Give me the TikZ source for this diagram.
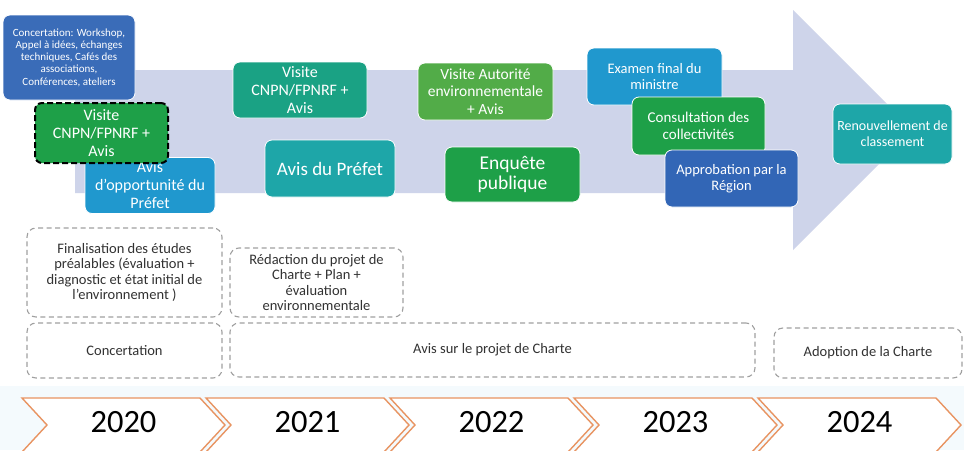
\documentclass[tikz,border=0pt]{standalone}
\usepackage{fontspec}
\setmainfont{Carlito}
\definecolor{arrowcol}{RGB}{206,212,234}
\definecolor{cBlueDark}{RGB}{58,108,184}
\definecolor{cGreen}{RGB}{30,160,72}
\definecolor{cBlue}{RGB}{32,152,206}
\definecolor{cTealGreen}{RGB}{26,162,132}
\definecolor{cTeal}{RGB}{30,166,168}
\definecolor{cGreenLight}{RGB}{82,172,72}
\definecolor{cBlueMid}{RGB}{50,102,182}
\definecolor{grayline}{RGB}{160,160,160}
\definecolor{graytext}{RGB}{50,50,50}
\definecolor{chevline}{RGB}{232,148,98}
\definecolor{bandcol}{RGB}{244,250,253}
\tikzset{
  cbox/.style={rounded corners=7pt, draw=white, line width=0.8pt, text=white,
    align=center, inner sep=0pt},
  gbox/.style={rounded corners=9pt, draw=grayline, line width=1.1pt,
    dash pattern=on 5pt off 3.5pt, text=graytext, align=center, inner sep=0pt,
    font=\fontsize{14.5}{15.5}\selectfont},
  chev/.style={draw=chevline, line width=1.4pt, fill=white, line join=miter},
  yearlbl/.style={inner sep=0pt, text=black, font=\fontsize{32.5}{34}\selectfont},
}
\begin{document}
\begin{tikzpicture}[x=1pt,y=-1pt]
\useasboundingbox (0,0) rectangle (964,450);
\fill[white] (0,0) rectangle (964,450);
% big arrow
\fill[arrowcol] (75,70) -- (793,70) -- (793,10) -- (913,130) -- (793,250) -- (793,193) -- (75,193) -- cycle;
% colored boxes
\node[cbox, fill=cBlueDark, minimum width=132, minimum height=85,
  font=\fontsize{11}{12.3}\selectfont] (b1) at (69,57.5)
  {Concertation: Workshop,\\Appel à idées, échanges\\techniques, Cafés des\\associations,\\Conférences, ateliers};
\node[cbox, fill=cBlue, minimum width=130, minimum height=56,
  font=\fontsize{16}{18}\selectfont] (b3) at (150,185.5)
  {Avis\\d’opportunité du\\Préfet};
\node[cbox, fill=cGreen, draw=black, line width=2pt, dash pattern=on 6pt off 3pt,
  minimum width=133, minimum height=60, font=\fontsize{16}{18}\selectfont] (b2) at (101.5,133)
  {Visite\\CNPN/FPNRF +\\Avis};
\node[cbox, fill=cTealGreen, minimum width=134, minimum height=56,
  font=\fontsize{16}{18}\selectfont] (b4) at (300,90)
  {Visite\\CNPN/FPNRF +\\Avis};
\node[cbox, fill=cTeal, minimum width=130, minimum height=57,
  font=\fontsize{19}{21}\selectfont] (b5) at (330,168.5)
  {Avis du Préfet};
\node[cbox, fill=cGreenLight, minimum width=135, minimum height=57,
  font=\fontsize{15.5}{17.5}\selectfont] (b6) at (485.5,91.5)
  {Visite Autorité\\environnementale\\+ Avis};
\node[cbox, fill=cGreen, minimum width=135, minimum height=55,
  font=\fontsize{19.5}{20}\selectfont] (b7) at (512.5,174.5)
  {Enquête\\publique};
\node[cbox, fill=cBlue, minimum width=135, minimum height=57,
  font=\fontsize{14.5}{16}\selectfont] (b8) at (654.5,76.5)
  {Examen final du\\ministre};
\node[cbox, fill=cGreen, minimum width=133, minimum height=58,
  font=\fontsize{15}{17}\selectfont] (b9) at (698.5,126)
  {Consultation des\\collectivités};
\node[cbox, fill=cBlueMid, minimum width=133, minimum height=57,
  font=\fontsize{14.5}{16.5}\selectfont] (b10) at (731.5,178.5)
  {Approbation par la\\Région};
\node[cbox, fill=cTeal, minimum width=119, minimum height=60,
  font=\fontsize{14}{16}\selectfont] (b11) at (892.5,134)
  {Renouvellement de\\classement};
% gray dashed boxes
\node[gbox, minimum width=195, minimum height=89] (g1) at (124.5,272.5)
  {Finalisation des études\\préalables (évaluation +\\diagnostic et état initial de\\l’environnement )};
\node[gbox, minimum width=173, minimum height=69] (g2) at (316.5,282.5)
  {Rédaction du projet de\\Charte + Plan +\\évaluation\\environnementale};
\node[gbox, minimum width=195, minimum height=55] (g3) at (124.5,350.5) {Concertation};
\node[gbox, minimum width=525, minimum height=54] (g4) at (492.5,350) {Avis sur le projet de Charte};
\node[gbox, minimum width=188, minimum height=50] (g5) at (868,353) {Adoption de la Charte};
% timeline chevrons
\fill[bandcol] (0,386) rectangle (964,450);
\foreach \i/\yr in {0/2020,1/2021,2/2022,3/2023,4/2024} {
  \pgfmathsetmacro\L{22+184*\i}
  \draw[chev] (\L,398) -- ++(178,0) -- ++(25,27) -- ++(-25,27) -- ++(-178,0) -- ++(25,-27) -- cycle;
  \node[yearlbl] (y\yr) at (\L+101.5,422.5) {\yr};
}
\end{tikzpicture}
\end{document}
